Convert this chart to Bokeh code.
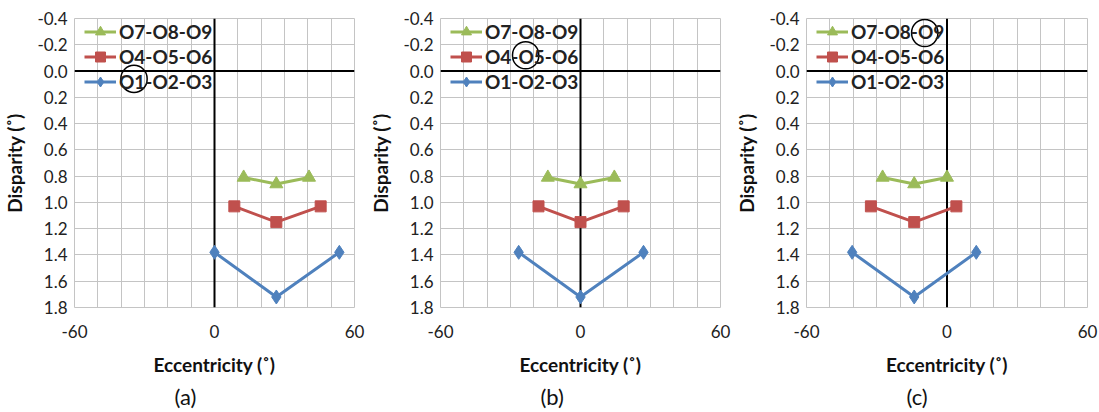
from bokeh.plotting import figure
from bokeh.layouts import row
from bokeh.models import (Range1d, FixedTicker, NumeralTickFormatter, Span,
                          Legend, LegendItem, Title, Label)
from bokeh.embed import file_html
from bokeh.resources import INLINE

# ---------------- data ----------------
panel_labels = ["(a)", "(b)", "(c)"]
series_names = ["O7-O8-O9", "O4-O5-O6", "O1-O2-O3"]
highlighted = ["O1", "O5", "O9"]

disparity_o789 = [0.81, 0.86, 0.81]
disparity_o456 = [1.03, 1.15, 1.03]
disparity_o123 = [1.38, 1.72, 1.38]

ecc_a_o789 = [12.5, 26.5, 40.5]
ecc_a_o456 = [8.5, 26.5, 45.5]
ecc_a_o123 = [0, 26.5, 53.5]

ecc_b_o789 = [-14, 0, 14.5]
ecc_b_o456 = [-18, 0, 18.5]
ecc_b_o123 = [-26.5, 0, 27]

ecc_c_o789 = [-27.5, -14, 0]
ecc_c_o456 = [-32.5, -14, 4]
ecc_c_o123 = [-40.5, -14, 12.5]

# annotation rings around the highlighted legend labels (data coords)
ring_x = [-34.5, -23.5, -9.5]
ring_y = [0.06, -0.12, -0.29]

x_ticks = [-60, 0, 60]
x_grid = [-60, -50, -40, -30, -20, -10, 0, 10, 20, 30, 40, 50, 60]
y_ticks = [-0.4, -0.2, 0.0, 0.2, 0.4, 0.6, 0.8, 1.0, 1.2, 1.4, 1.6, 1.8]

colors = {"O7-O8-O9": "#9BBB59", "O4-O5-O6": "#C0504D", "O1-O2-O3": "#4F81BD"}
markers = {"O7-O8-O9": "triangle", "O4-O5-O6": "square", "O1-O2-O3": "diamond"}
msizes = {"O7-O8-O9": 13, "O4-O5-O6": 11, "O1-O2-O3": 14}

panel_ecc = [
    {"O7-O8-O9": ecc_a_o789, "O4-O5-O6": ecc_a_o456, "O1-O2-O3": ecc_a_o123},
    {"O7-O8-O9": ecc_b_o789, "O4-O5-O6": ecc_b_o456, "O1-O2-O3": ecc_b_o123},
    {"O7-O8-O9": ecc_c_o789, "O4-O5-O6": ecc_c_o456, "O1-O2-O3": ecc_c_o123},
]
disp = {"O7-O8-O9": disparity_o789, "O4-O5-O6": disparity_o456, "O1-O2-O3": disparity_o123}

FONT = "Lato"
GRID = "#c4c4c4"
widths = [366, 366, 367]

figs = []
for i, lab in enumerate(panel_labels):
    p = figure(width=widths[i], height=412, output_backend="svg", toolbar_location=None,
               x_range=Range1d(-60, 60), y_range=Range1d(1.8, -0.4),
               min_border_left=72, min_border_right=12, min_border_top=18,
               min_border_bottom=104, background_fill_color="white",
               border_fill_color="white", outline_line_color=GRID)
    xt = FixedTicker(ticks=x_ticks, minor_ticks=x_grid)
    yt = FixedTicker(ticks=y_ticks, minor_ticks=[])
    p.xaxis.ticker = xt
    p.yaxis.ticker = yt
    p.xgrid.ticker = xt
    p.ygrid.ticker = yt
    p.xgrid.grid_line_color = GRID
    p.xgrid.minor_grid_line_color = GRID
    p.ygrid.grid_line_color = GRID
    p.yaxis.formatter = NumeralTickFormatter(format="0.0")
    p.xaxis.formatter = NumeralTickFormatter(format="0")
    for ax in (p.xaxis, p.yaxis):
        ax.axis_line_color = None
        ax.major_tick_line_color = None
        ax.minor_tick_line_color = None
        ax.major_tick_out = 0
        ax.major_tick_in = 0
        ax.minor_tick_out = 0
        ax.minor_tick_in = 0
        ax.major_label_text_font = FONT
        ax.major_label_text_font_size = "17px"
        ax.major_label_text_color = "#222222"
        ax.axis_label_text_font = FONT
        ax.axis_label_text_font_size = "19px"
        ax.axis_label_text_font_style = "bold"
        ax.axis_label_text_color = "#111111"
    p.xaxis.axis_label = "Eccentricity (˚)"
    p.yaxis.axis_label = "Disparity (˚)"
    p.xaxis.major_label_standoff = 17
    p.xaxis.axis_label_standoff = 12
    p.yaxis.major_label_standoff = 7
    p.yaxis.axis_label_standoff = 8

    # Excel-style axes crossing at zero
    for dim in ("width", "height"):
        s = Span(location=0, dimension=dim, line_color="black", line_width=2, level="underlay")
        p.add_layout(s)

    items = []
    for name in series_names:
        xs = panel_ecc[i][name]
        ys = disp[name]
        l = p.line(xs, ys, line_color=colors[name], line_width=3)
        m = p.scatter(xs, ys, marker=markers[name], size=msizes[name],
                      fill_color=colors[name], line_color=colors[name])
        items.append(LegendItem(label=name, renderers=[l, m]))

    ring = Label(x=ring_x[i], y=ring_y[i], text=" ", text_font_size="1px",
                 text_align="center", text_baseline="middle", padding=13,
                 border_radius=14, border_line_color="black", border_line_width=1.5,
                 background_fill_color=None)
    p.add_layout(ring)

    leg = Legend(items=items, location=(10, 213), margin=0, padding=0,
                 spacing=0, glyph_width=32, glyph_height=25, label_height=25,
                 label_standoff=3, label_text_font=FONT, label_text_font_size="19px",
                 label_text_font_style="bold", label_text_color="#222222",
                 background_fill_alpha=0, border_line_color=None)
    p.add_layout(leg)

    p.add_layout(Title(text=lab, align="left", offset=100, standoff=5, text_font=FONT,
                       text_font_size="22px", text_font_style="normal",
                       text_color="#111111"), "below")
    figs.append(p)

layout = row(*figs, spacing=0)
open("out.html", "w").write(file_html(layout, INLINE))
